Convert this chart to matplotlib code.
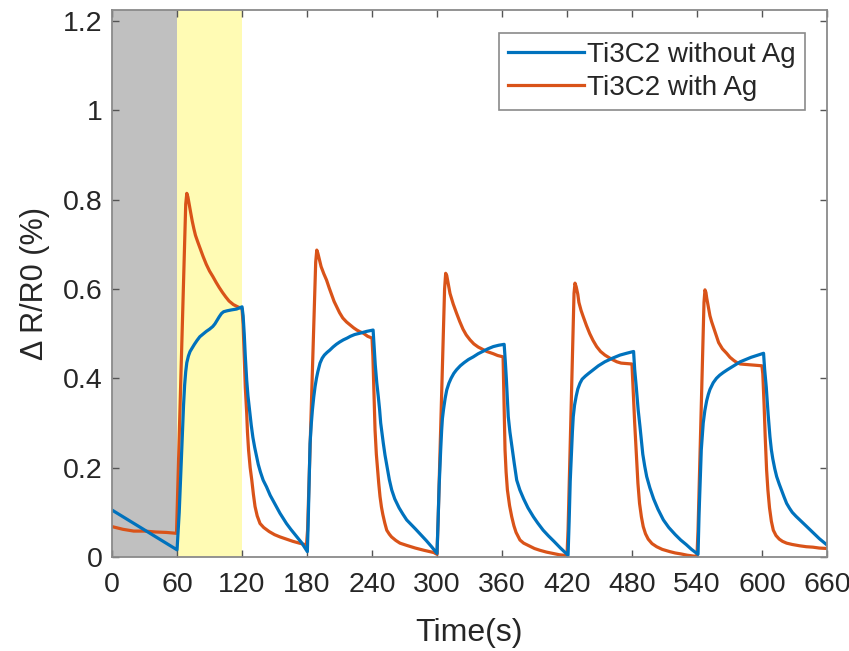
import matplotlib
matplotlib.use("Agg")
import matplotlib.pyplot as plt

plt.rcParams['font.family'] = ['Liberation Sans', 'DejaVu Sans']

# Response of the Ti3C2 sensor without silver (time in s, dR/R0 in %)
t_no_ag = [0, 60, 61, 62, 63, 64, 65, 66, 67, 68, 69, 70.5, 72, 74, 76, 78.5, 81, 84, 87, 90, 93, 95, 97, 99, 101, 103, 106, 110, 115, 120,
           121, 122, 123, 124.3, 125.5, 127.2, 128.5, 130, 131.7, 133.4, 135, 137, 139.5, 142.6, 146, 150, 155, 161, 165, 170, 175, 180.3,
           181, 182, 182.8, 184, 185, 186.2, 187.4, 188.7, 190, 192, 194, 196, 198.5, 201, 204, 207, 210, 213.5, 217, 220, 224, 229, 235, 241,
           242, 243, 244.4, 245.8, 247, 248, 249.2, 250.4, 252, 254, 256, 258.2, 261, 265, 268.5, 272, 276, 280, 285, 290, 295, 300,
           301, 302, 302.5, 303.4, 304.3, 305, 306, 307.5, 309, 311, 313, 315.5, 318, 321.5, 325, 329, 333.5, 338, 342, 347, 352, 357, 362,
           363, 364, 365, 365.8, 367.3, 369, 371.3, 373.6, 376.5, 380, 384, 389, 393, 398, 403, 408, 414, 421,
           422, 423, 424.3, 425, 425.8, 427, 428.5, 430, 432, 434, 437, 440, 444.3, 449, 455, 462, 469, 475, 481.5,
           482.5, 484, 485.7, 487.4, 488.7, 490, 491.8, 493.6, 496.5, 500, 504, 509, 514, 520, 525, 530, 535, 541,
           542, 543, 544, 545, 545.8, 547.3, 549, 550.5, 552, 555, 558, 561, 564.3, 568, 572, 576, 580, 585, 590, 595, 601.5,
           602.5, 604, 605.7, 607.4, 608.7, 610, 611.8, 613.6, 616, 618, 620.5, 622.8, 625.5, 628, 631.5, 635, 641, 647, 653, 660]
r_no_ag = [0.105, 0.016, 0.06, 0.10, 0.16, 0.22, 0.28, 0.34, 0.385, 0.415, 0.435, 0.450, 0.460, 0.468, 0.476, 0.485, 0.493, 0.499, 0.505, 0.510, 0.516, 0.522, 0.530, 0.538, 0.545, 0.549, 0.551, 0.553, 0.555, 0.560,
           0.540, 0.500, 0.450, 0.396, 0.360, 0.322, 0.295, 0.268, 0.245, 0.225, 0.207, 0.190, 0.172, 0.157, 0.138, 0.120, 0.098, 0.075, 0.062, 0.047, 0.032, 0.012,
           0.07, 0.17, 0.254, 0.300, 0.330, 0.358, 0.381, 0.400, 0.415, 0.434, 0.445, 0.452, 0.458, 0.463, 0.470, 0.476, 0.481, 0.486, 0.490, 0.494, 0.498, 0.501, 0.505, 0.508,
           0.470, 0.430, 0.390, 0.359, 0.330, 0.300, 0.277, 0.255, 0.228, 0.200, 0.173, 0.150, 0.130, 0.110, 0.096, 0.083, 0.073, 0.063, 0.050, 0.037, 0.023, 0.008,
           0.08, 0.16, 0.19, 0.24, 0.284, 0.310, 0.330, 0.355, 0.374, 0.389, 0.400, 0.411, 0.419, 0.428, 0.435, 0.442, 0.448, 0.455, 0.460, 0.466, 0.471, 0.474, 0.476,
           0.440, 0.400, 0.350, 0.314, 0.280, 0.250, 0.210, 0.172, 0.150, 0.130, 0.110, 0.090, 0.076, 0.060, 0.047, 0.035, 0.020, 0.004,
           0.08, 0.17, 0.24, 0.280, 0.314, 0.340, 0.360, 0.376, 0.389, 0.398, 0.405, 0.411, 0.419, 0.428, 0.437, 0.445, 0.452, 0.456, 0.460,
           0.420, 0.380, 0.330, 0.292, 0.260, 0.230, 0.203, 0.180, 0.155, 0.130, 0.107, 0.083, 0.066, 0.050, 0.038, 0.028, 0.017, 0.006,
           0.10, 0.17, 0.24, 0.275, 0.300, 0.328, 0.350, 0.364, 0.375, 0.390, 0.400, 0.407, 0.413, 0.419, 0.425, 0.431, 0.437, 0.442, 0.447, 0.451, 0.456,
           0.420, 0.380, 0.320, 0.269, 0.240, 0.220, 0.198, 0.180, 0.163, 0.150, 0.134, 0.120, 0.109, 0.100, 0.091, 0.083, 0.069, 0.055, 0.041, 0.027]

# Response of the Ti3C2 sensor with silver
t_ag = [0, 10, 20, 30, 40, 50, 59.5, 68, 69, 70, 71, 72.5, 74, 75.5, 77, 79, 81, 84, 87, 90, 93, 96, 99, 102, 105, 108, 112, 116, 119, 120,
        121, 122, 123, 124.3, 125, 126, 127.5, 129, 130.5, 132, 134, 136.6, 140, 145, 150, 155, 161, 167, 173, 179.5, 180.5,
        188, 189, 190, 191.5, 193, 195.5, 198, 200.5, 203, 205, 207.4, 210, 213, 216.5, 220, 223, 226, 229, 232, 236, 240,
        240.8, 241.8, 242.8, 244, 245, 246.2, 247.4, 248.7, 250, 251.8, 253.6, 256, 258, 262, 265.8, 272, 280, 288, 297, 300,
        301, 307, 308, 309, 310.5, 312, 315, 318, 321, 324, 327, 330.5, 334, 338, 342, 346, 352, 356, 361,
        361.8, 362.8, 363.8, 365, 367, 369, 371, 373, 376.6, 380, 385, 390, 395, 401, 407, 413, 420,
        421, 426.5, 427.4, 428.5, 430, 431, 433, 435, 438, 441, 444, 447.4, 451, 455, 459, 462.7, 466, 470, 475, 480,
        481.5, 482.5, 484.3, 485.5, 487, 488.7, 490.4, 492.5, 495, 498.5, 502.8, 508, 515, 520, 525, 531, 537, 540,
        541, 546.5, 547.4, 548.3, 549, 550.5, 552, 553.5, 555, 557.5, 560, 563.5, 567.4, 570.5, 574, 577, 580, 585, 590, 595, 600,
        600.8, 602, 603, 604.3, 605.5, 607, 608.7, 610.5, 613, 616, 619, 622.8, 628, 635, 641, 647, 653, 660]
r_ag = [0.068, 0.062, 0.058, 0.058, 0.056, 0.055, 0.053, 0.790, 0.814, 0.806, 0.792, 0.772, 0.752, 0.735, 0.720, 0.706, 0.693, 0.673, 0.655, 0.640, 0.628, 0.615, 0.603, 0.592, 0.582, 0.573, 0.565, 0.560, 0.557, 0.556,
        0.520, 0.450, 0.380, 0.322, 0.280, 0.240, 0.200, 0.172, 0.140, 0.113, 0.092, 0.075, 0.066, 0.057, 0.050, 0.045, 0.040, 0.035, 0.031, 0.027, 0.06,
        0.660, 0.687, 0.680, 0.665, 0.650, 0.634, 0.620, 0.602, 0.585, 0.572, 0.560, 0.547, 0.535, 0.526, 0.519, 0.513, 0.508, 0.504, 0.501, 0.494, 0.490,
        0.450, 0.370, 0.284, 0.230, 0.200, 0.165, 0.135, 0.112, 0.095, 0.076, 0.060, 0.051, 0.045, 0.037, 0.031, 0.026, 0.020, 0.015, 0.010, 0.006,
        0.08, 0.600, 0.635, 0.630, 0.610, 0.590, 0.566, 0.546, 0.527, 0.510, 0.497, 0.486, 0.477, 0.470, 0.465, 0.460, 0.455, 0.451, 0.448,
        0.360, 0.240, 0.190, 0.150, 0.115, 0.090, 0.070, 0.055, 0.038, 0.031, 0.025, 0.019, 0.015, 0.011, 0.008, 0.005, 0.003,
        0.06, 0.590, 0.613, 0.605, 0.588, 0.570, 0.552, 0.538, 0.518, 0.500, 0.485, 0.471, 0.460, 0.452, 0.446, 0.441, 0.437, 0.434, 0.433, 0.432,
        0.350, 0.300, 0.217, 0.165, 0.120, 0.090, 0.068, 0.052, 0.040, 0.030, 0.023, 0.017, 0.012, 0.009, 0.007, 0.004, 0.002, 0.002,
        0.06, 0.570, 0.598, 0.592, 0.580, 0.560, 0.540, 0.527, 0.516, 0.497, 0.480, 0.466, 0.456, 0.447, 0.440, 0.435, 0.432, 0.431, 0.430, 0.429, 0.428,
        0.410, 0.340, 0.270, 0.195, 0.150, 0.110, 0.080, 0.060, 0.048, 0.040, 0.035, 0.031, 0.028, 0.025, 0.023, 0.022, 0.020, 0.019]

x_ticks = [0, 60, 120, 180, 240, 300, 360, 420, 480, 540, 600, 660]
y_ticks = [0, 0.2, 0.4, 0.6, 0.8, 1.0, 1.2]
y_tick_labels = ['0', '0.2', '0.4', '0.6', '0.8', '1', '1.2']
series_names = ['Ti3C2 without Ag', 'Ti3C2 with Ag']

BLUE = '#0072BD'
ORANGE = '#D95319'
TEXT = '#262626'
FRAME = '#8a8a8a'

fig = plt.figure(figsize=(8.49, 6.51), dpi=100)
ax = fig.add_axes([0.132, 0.1444, 0.842, 0.8403])

# background phases: baseline (gray) and first exposure (yellow)
ax.axvspan(0, 60, color='#C0C0C0', lw=0, zorder=0)
ax.axvspan(60, 120, color='#FFFBB4', lw=0, zorder=0)

ax.plot(t_no_ag, r_no_ag, color=BLUE, lw=2.3, label=series_names[0], zorder=3,
        solid_joinstyle='round')
ax.plot(t_ag, r_ag, color=ORANGE, lw=2.3, label=series_names[1], zorder=2,
        solid_joinstyle='round')

ax.set_xlim(0, 660)
ax.set_ylim(0, 1.2245)
ax.set_xticks(x_ticks)
ax.set_xticklabels([str(v) for v in x_ticks])
ax.set_yticks(y_ticks)
ax.set_yticklabels(y_tick_labels)

ax.tick_params(axis='both', which='both', direction='in', length=5, width=1,
               color='#555555', labelcolor=TEXT, labelsize=20.5,
               top=True, right=True)
ax.tick_params(axis='x', pad=11)
ax.tick_params(axis='y', pad=7)
for s in ax.spines.values():
    s.set_color(FRAME)
    s.set_linewidth(1.3)
    s.set_zorder(4)

ax.set_xlabel('Time(s)', fontsize=23, color=TEXT, labelpad=14)
ax.set_ylabel('\u0394 R/R0 (%)', fontsize=22, color=TEXT, labelpad=9)

leg = ax.legend(loc='upper right', bbox_to_anchor=(0.969, 0.958), borderaxespad=0,
                fontsize=20, frameon=True, fancybox=False, framealpha=1,
                edgecolor=FRAME, handlelength=2.75, handletextpad=0.1,
                borderpad=0.32, labelspacing=0.25)
leg.get_frame().set_linewidth(1.2)
for txt in leg.get_texts():
    txt.set_color(TEXT)

fig.savefig('out.png', dpi=100)
